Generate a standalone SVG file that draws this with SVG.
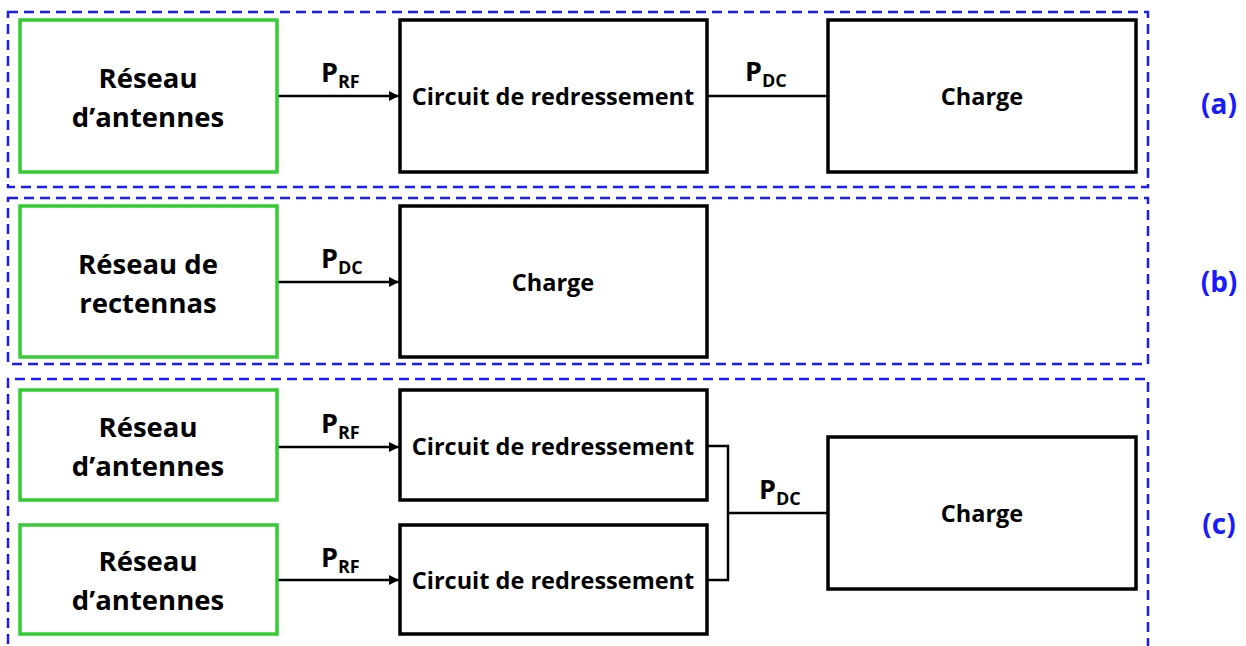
<svg xmlns="http://www.w3.org/2000/svg" width="1246" height="646" viewBox="0 0 1246 646">
<style>
.frame{fill:none;stroke:#1a1aff;stroke-width:2.5;stroke-dasharray:10 6}
.green{fill:#fff;stroke:#3c3;stroke-width:3.5}
.black{fill:#fff;stroke:#000;stroke-width:3.5}
.t{font-family:"Open Sans",Lato,sans-serif;font-weight:bold;fill:#000;text-anchor:middle}
.big{font-size:27.5px}
.mid{font-size:23.5px}
.lab{font-family:"Open Sans",Lato,sans-serif;font-weight:bold;font-size:27px}
.sub{font-size:18px}
.tag{font-family:"Open Sans",Lato,sans-serif;font-weight:bold;font-size:28px;fill:#1a1aff;text-anchor:middle}
.wire{fill:none;stroke:#000;stroke-width:2.5}
</style>
<defs>
<marker id="arr" viewBox="0 0 10 10" refX="10" refY="5" markerWidth="4" markerHeight="4" orient="auto" markerUnits="strokeWidth">
<path d="M0,0 L10,5 L0,10 z" fill="#000"/>
</marker>
</defs>
<g id="frames">
<rect class="frame" x="8" y="12" width="1140" height="175"/>
<rect class="frame" x="8" y="198" width="1140" height="166"/>
<path class="frame" d="M8,660 V379 H1148 V660"/>
</g>
<g id="connectors">
<line class="wire" x1="277" y1="96" x2="399" y2="96" marker-end="url(#arr)"/>
<line class="wire" x1="707" y1="96" x2="828" y2="96"/>
<line class="wire" x1="277" y1="282" x2="399" y2="282" marker-end="url(#arr)"/>
<line class="wire" x1="277" y1="447" x2="399" y2="447" marker-end="url(#arr)"/>
<line class="wire" x1="277" y1="580" x2="399" y2="580" marker-end="url(#arr)"/>
<path class="wire" d="M707,446 H728 V580 H707"/>
<line class="wire" x1="728" y1="513" x2="828" y2="513"/>
<text class="lab" x="321" y="82">P<tspan class="sub" dy="6">RF</tspan></text>
<text class="lab" x="745" y="81">P<tspan class="sub" dy="6">DC</tspan></text>
<text class="lab" x="321" y="268">P<tspan class="sub" dy="6">DC</tspan></text>
<text class="lab" x="321" y="433">P<tspan class="sub" dy="6">RF</tspan></text>
<text class="lab" x="321" y="567">P<tspan class="sub" dy="6">RF</tspan></text>
<text class="lab" x="759" y="499">P<tspan class="sub" dy="6">DC</tspan></text>
</g>
<g id="a-antennes">
<rect class="green" x="20" y="20" width="257" height="152"/>
<text class="t big" x="148" y="88">Réseau</text>
<text class="t big" x="148" y="127">d’antennes</text>
</g>
<g id="a-circuit">
<rect class="black" x="400" y="20" width="307" height="152"/>
<text class="t mid" x="553" y="105">Circuit de redressement</text>
</g>
<g id="a-charge">
<rect class="black" x="828" y="20" width="308" height="152"/>
<text class="t mid" x="982" y="105">Charge</text>
</g>
<g id="b-rectennas">
<rect class="green" x="20" y="206" width="257" height="151"/>
<text class="t big" x="148" y="274">Réseau de</text>
<text class="t big" x="148" y="313">rectennas</text>
</g>
<g id="b-charge">
<rect class="black" x="400" y="206" width="307" height="151"/>
<text class="t mid" x="553" y="291">Charge</text>
</g>
<g id="c-antennes1">
<rect class="green" x="20" y="390" width="257" height="110"/>
<text class="t big" x="148" y="437">Réseau</text>
<text class="t big" x="148" y="476">d’antennes</text>
</g>
<g id="c-antennes2">
<rect class="green" x="20" y="525" width="257" height="109"/>
<text class="t big" x="148" y="571">Réseau</text>
<text class="t big" x="148" y="610">d’antennes</text>
</g>
<g id="c-circuit1">
<rect class="black" x="400" y="390" width="307" height="110"/>
<text class="t mid" x="553" y="455">Circuit de redressement</text>
</g>
<g id="c-circuit2">
<rect class="black" x="400" y="525" width="307" height="109"/>
<text class="t mid" x="553" y="589">Circuit de redressement</text>
</g>
<g id="c-charge">
<rect class="black" x="828" y="437" width="308" height="152"/>
<text class="t mid" x="982" y="522">Charge</text>
</g>
<g id="tags">
<text class="tag" x="1219" y="114">(a)</text>
<text class="tag" x="1219" y="292">(b)</text>
<text class="tag" x="1219" y="534">(c)</text>
</g>
</svg>
